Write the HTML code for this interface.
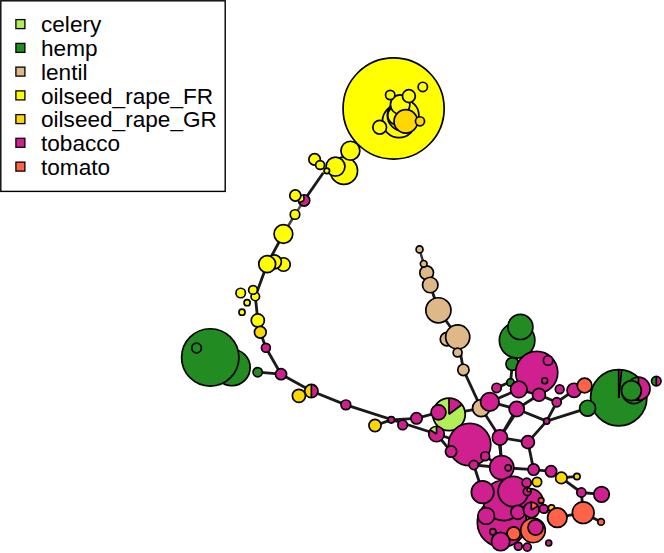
<!DOCTYPE html>
<html><head><meta charset="utf-8"><style>
html,body{margin:0;padding:0;background:#fff;}
svg{display:block;}
text{font-family:"Liberation Sans",sans-serif;font-size:22.6px;fill:#000;}
</style></head><body>
<svg width="664" height="553" viewBox="0 0 664 553">
<rect x="0" y="0" width="664" height="553" fill="#fff"/>
<g stroke="#1a1a1a" stroke-width="2.8" stroke-linecap="butt">
<line x1="323.3" y1="172.8" x2="304.1" y2="200.4"/>
<line x1="304.1" y1="200.4" x2="295" y2="214.5" stroke="#555" stroke-width="2.4"/>
<line x1="295" y1="214.5" x2="283.4" y2="234" stroke="#444" stroke-width="2.5"/>
<line x1="283.4" y1="234" x2="267.2" y2="264.1"/>
<line x1="267.2" y1="264.1" x2="255.3" y2="296.5"/>
<line x1="255.3" y1="296.5" x2="257.8" y2="320.4"/>
<line x1="257.8" y1="320.4" x2="260.3" y2="332.2"/>
<line x1="260.3" y1="332.2" x2="265.9" y2="347.8"/>
<line x1="265.9" y1="347.8" x2="281.05" y2="374.2"/>
<line x1="257.7" y1="372.2" x2="281.05" y2="374.2"/>
<line x1="281.05" y1="374.2" x2="311.35" y2="391.05"/>
<line x1="311.35" y1="391.05" x2="345.85" y2="404.85"/>
<line x1="345.85" y1="404.85" x2="436.5" y2="434"/>
<line x1="375" y1="425.5" x2="391.25" y2="419.85"/>
<line x1="391.25" y1="419.85" x2="416.5" y2="418.35"/>
<line x1="416.5" y1="418.35" x2="438.5" y2="412.35"/>
<line x1="436.5" y1="434" x2="451.1" y2="451.55"/>
<line x1="436.5" y1="434" x2="469.6" y2="444.6"/>
<line x1="449" y1="414.3" x2="481.1" y2="408.1"/>
<line x1="419.55" y1="249.4" x2="423.7" y2="263.85" stroke="#333" stroke-width="2.4"/>
<line x1="423.7" y1="263.85" x2="430.25" y2="285"/>
<line x1="430.25" y1="285" x2="438.4" y2="310.3"/>
<line x1="438.4" y1="310.3" x2="457.7" y2="337"/>
<line x1="457.7" y1="337" x2="463.4" y2="369.9"/>
<line x1="463.4" y1="369.9" x2="481.1" y2="408.1"/>
<line x1="481.1" y1="408.1" x2="499.9" y2="437.5"/>
<line x1="489.8" y1="401.9" x2="518.8" y2="389.4"/>
<line x1="496.6" y1="387.9" x2="510.7" y2="381.6"/>
<line x1="489.8" y1="401.9" x2="516.7" y2="409"/>
<line x1="516.7" y1="409" x2="538.95" y2="394.8"/>
<line x1="518.8" y1="389.4" x2="538.95" y2="394.8"/>
<line x1="538.95" y1="394.8" x2="556.75" y2="402.25"/>
<line x1="556.75" y1="402.25" x2="574.05" y2="390.3"/>
<line x1="556.75" y1="402.25" x2="546.65" y2="421.1"/>
<line x1="546.65" y1="421.1" x2="587.6" y2="408.2"/>
<line x1="516.7" y1="409" x2="546.65" y2="421.1"/>
<line x1="546.65" y1="421.1" x2="527.95" y2="442.15"/>
<line x1="516.7" y1="409" x2="499.9" y2="437.5"/>
<line x1="499.9" y1="437.5" x2="527.95" y2="442.15"/>
<line x1="499.9" y1="437.5" x2="501.75" y2="467.6"/>
<line x1="527.95" y1="442.15" x2="533.6" y2="469.6"/>
<line x1="516.8" y1="411.8" x2="499.9" y2="437.5"/>
<line x1="510.5" y1="382.4" x2="512.4" y2="363.9"/>
<line x1="512.4" y1="363.9" x2="517.1" y2="338.3"/>
<line x1="574.05" y1="390.3" x2="584.6" y2="385.35"/>
<line x1="533.6" y1="469.6" x2="551.05" y2="471.3"/>
<line x1="551.05" y1="471.3" x2="561.35" y2="477.95"/>
<line x1="561.35" y1="477.95" x2="576.95" y2="476.45"/>
<line x1="561.35" y1="477.95" x2="581.35" y2="492.5"/>
<line x1="581.35" y1="492.5" x2="601.55" y2="494.3"/>
<line x1="581.35" y1="492.5" x2="583.2" y2="512.65"/>
<line x1="583.2" y1="512.65" x2="601.05" y2="521.9"/>
<line x1="583.2" y1="512.65" x2="557.3" y2="517.7"/>
<line x1="501.75" y1="467.6" x2="533.6" y2="469.6"/>
<line x1="498.5" y1="437.5" x2="502.5" y2="467.6"/>
<line x1="469.6" y1="444.6" x2="473.8" y2="465"/>
<line x1="473.8" y1="465" x2="482.6" y2="492.2"/>
<line x1="473.8" y1="465" x2="501.75" y2="467.6"/>
<line x1="485.2" y1="456.2" x2="501.75" y2="467.6"/>
</g>
<g stroke="#000" stroke-width="1.7">
<circle cx="393.6" cy="108.5" r="50.55" fill="#FFFF00"/>
<circle cx="399" cy="121.1" r="16.55" fill="#FFFF00"/>
<circle cx="403.1" cy="115.3" r="15.75" fill="#FFFF00"/>
<circle cx="397.3" cy="115.3" r="9.55" fill="#FFFF00"/>
<circle cx="400.2" cy="104.6" r="9.75" fill="#FFFF00"/>
<circle cx="408.9" cy="96.1" r="6.45" fill="#FFFF00"/>
<circle cx="390.2" cy="95" r="4.65" fill="#FFFF00"/>
<circle cx="422.8" cy="86.9" r="4.65" fill="#FFFF00"/>
<circle cx="405.8" cy="121.4" r="11.75" fill="#FFD700"/>
<circle cx="420" cy="121.3" r="4.55" fill="#FFD700"/>
<circle cx="379.7" cy="127.3" r="6.85" fill="#FFFF00"/>
<circle cx="343.9" cy="170.8" r="13.65" fill="#FFFF00"/>
<circle cx="350.4" cy="150.7" r="9.45" fill="#FFFF00"/>
<circle cx="335.5" cy="166.6" r="9.45" fill="#FFFF00"/>
<circle cx="314.6" cy="159.4" r="5.75" fill="#FFFF00"/>
<circle cx="320.1" cy="165" r="4.45" fill="#FFFF00"/>
<circle cx="326.8" cy="170.8" r="2.75" fill="#FFFF00"/>
<circle cx="304.1" cy="200.4" r="5.65" fill="#D02090" stroke="none"/>
<path d="M304.1,200.4 L303.61,194.77 A5.65,5.65 0 0 0 298.98,202.79 Z" fill="#FFFF00" stroke="none"/>
<line x1="304.1" y1="200.4" x2="298.98" y2="202.79" stroke="#000" stroke-width="1.7"/>
<line x1="304.1" y1="200.4" x2="303.61" y2="194.77" stroke="#000" stroke-width="1.7"/>
<circle cx="304.1" cy="200.4" r="5.65" fill="none"/>
<circle cx="295.3" cy="195.5" r="5.55" fill="#FFFF00"/>
<circle cx="295" cy="214.5" r="4.75" fill="#FFFF00"/>
<circle cx="283.4" cy="234" r="9.35" fill="#FFFF00"/>
<circle cx="283.5" cy="264.5" r="6.75" fill="#FFFF00"/>
<circle cx="274.3" cy="261.9" r="7.05" fill="#FFFF00"/>
<circle cx="267.2" cy="264.1" r="8.45" fill="#FFFF00"/>
<circle cx="240.7" cy="293" r="4.75" fill="#FFFF00"/>
<circle cx="255.3" cy="296.5" r="4.25" fill="#FFFF00"/>
<circle cx="253" cy="289.9" r="4.35" fill="#FFFF00"/>
<circle cx="247.1" cy="302.7" r="3.05" fill="#FFFF00"/>
<circle cx="242" cy="312.2" r="3.05" fill="#FFFF00"/>
<circle cx="257.8" cy="320.4" r="6.55" fill="#FFFF00"/>
<circle cx="260.3" cy="332.2" r="5.85" fill="#FFD700"/>
<circle cx="265.9" cy="347.8" r="4.45" fill="#D02090"/>
<circle cx="231.9" cy="367.5" r="18.25" fill="#228B22"/>
<circle cx="210.25" cy="357.4" r="28.65" fill="#228B22"/>
<circle cx="196.55" cy="348" r="4.85" fill="#228B22"/>
<circle cx="257.7" cy="372.2" r="4.65" fill="#228B22"/>
<circle cx="281.05" cy="374.2" r="5.55" fill="#D02090"/>
<circle cx="311.35" cy="391.05" r="6.65" fill="#D02090" stroke="none"/>
<path d="M311.35,391.05 L311.35,384.40 A6.65,6.65 0 0 0 311.35,397.70 Z" fill="#FFD700" stroke="none"/>
<line x1="311.35" y1="391.05" x2="311.35" y2="384.40" stroke="#000" stroke-width="1.7"/>
<line x1="311.35" y1="391.05" x2="311.35" y2="397.70" stroke="#000" stroke-width="1.7"/>
<circle cx="311.35" cy="391.05" r="6.65" fill="none"/>
<circle cx="298.9" cy="395.85" r="6.55" fill="#FFD700"/>
<circle cx="345.85" cy="404.85" r="4.85" fill="#D02090"/>
<circle cx="375" cy="425.5" r="6.05" fill="#FFD700"/>
<circle cx="391.25" cy="419.85" r="3.25" fill="#D02090"/>
<circle cx="402.65" cy="424.95" r="4.75" fill="#D02090"/>
<circle cx="416.5" cy="418.35" r="5.65" fill="#D02090"/>
<circle cx="419.55" cy="249.4" r="3.45" fill="#DEB887"/>
<circle cx="426.65" cy="272.8" r="6.85" fill="#DEB887"/>
<circle cx="423.7" cy="263.85" r="3.35" fill="#DEB887"/>
<circle cx="430.25" cy="285" r="7.75" fill="#DEB887"/>
<circle cx="438.4" cy="310.3" r="12.55" fill="#DEB887"/>
<circle cx="447" cy="339.2" r="6.75" fill="#DEB887"/>
<circle cx="457.7" cy="337" r="12.05" fill="#DEB887"/>
<circle cx="457.6" cy="352.5" r="4.45" fill="#DEB887"/>
<circle cx="463.4" cy="369.9" r="5.65" fill="#DEB887"/>
<circle cx="517.1" cy="340.3" r="17.75" fill="#228B22"/>
<circle cx="520.35" cy="326.95" r="12.55" fill="#228B22"/>
<circle cx="512.4" cy="364" r="6.45" fill="#228B22"/>
<circle cx="510.5" cy="382.4" r="3.75" fill="#228B22"/>
<circle cx="536.7" cy="372.5" r="21.05" fill="#D02090"/>
<circle cx="548.1" cy="360.5" r="4.75" fill="#D02090"/>
<circle cx="544.7" cy="380.7" r="2.95" fill="#D02090"/>
<circle cx="449" cy="414.3" r="16.25" fill="#B3EE5A" stroke="none"/>
<path d="M449,414.3 L461.98,404.52 A16.25,16.25 0 0 0 449.00,398.05 Z" fill="#D02090" stroke="none"/>
<line x1="449" y1="414.3" x2="449.00" y2="398.05" stroke="#000" stroke-width="1.7"/>
<line x1="449" y1="414.3" x2="461.98" y2="404.52" stroke="#000" stroke-width="1.7"/>
<circle cx="449" cy="414.3" r="16.25" fill="none"/>
<circle cx="438.5" cy="412.35" r="7.45" fill="#D02090"/>
<circle cx="436.5" cy="434" r="7.75" fill="#D02090" stroke="none"/>
<path d="M436.5,434 L436.50,426.25 A7.75,7.75 0 0 0 430.00,429.78 Z" fill="#B3EE5A" stroke="none"/>
<line x1="436.5" y1="434" x2="436.50" y2="426.25" stroke="#000" stroke-width="1.7"/>
<line x1="436.5" y1="434" x2="430.00" y2="429.78" stroke="#000" stroke-width="1.7"/>
<circle cx="436.5" cy="434" r="7.75" fill="none"/>
<circle cx="469.6" cy="444.6" r="21.15" fill="#D02090"/>
<circle cx="451.1" cy="451.55" r="5.65" fill="#D02090"/>
<circle cx="485.2" cy="456.2" r="4.45" fill="#D02090"/>
<circle cx="473.8" cy="465" r="4.55" fill="#D02090"/>
<circle cx="481.1" cy="408.1" r="8.55" fill="#DEB887"/>
<circle cx="489.8" cy="401.9" r="9.25" fill="#D02090"/>
<circle cx="496.6" cy="387.9" r="4.65" fill="#D02090"/>
<circle cx="518.8" cy="389.4" r="8.25" fill="#D02090"/>
<circle cx="516.7" cy="409" r="7.55" fill="#D02090"/>
<circle cx="538.95" cy="394.8" r="6.45" fill="#D02090"/>
<circle cx="559.65" cy="389.25" r="4.35" fill="#D02090"/>
<circle cx="556.75" cy="402.25" r="4.55" fill="#D02090"/>
<circle cx="574.05" cy="390.3" r="7.05" fill="#D02090"/>
<circle cx="584.6" cy="385.5" r="7.35" fill="#FF6347"/>
<circle cx="546.65" cy="421.1" r="3.05" fill="#D02090"/>
<circle cx="499.9" cy="437.5" r="7.55" fill="#D02090"/>
<circle cx="527.95" cy="442.15" r="6.45" fill="#D02090"/>
<circle cx="618.7" cy="397.8" r="28.15" fill="#228B22" stroke="none"/>
<path d="M618.7,397.8 L621.64,369.80 A28.15,28.15 0 0 0 618.70,369.65 Z" fill="#D02090" stroke="none"/>
<line x1="618.7" y1="397.8" x2="618.70" y2="369.65" stroke="#000" stroke-width="1.7"/>
<line x1="618.7" y1="397.8" x2="621.64" y2="369.80" stroke="#000" stroke-width="1.7"/>
<circle cx="618.7" cy="397.8" r="28.15" fill="none"/>
<circle cx="633.8" cy="391.9" r="11.75" fill="#228B22"/>
<circle cx="638.5" cy="388.7" r="11.55" fill="#D02090" stroke="none"/>
<path d="M638.5,388.7 L638.50,377.15 A11.55,11.55 0 0 0 638.50,400.25 Z" fill="#228B22" stroke="none"/>
<line x1="638.5" y1="388.7" x2="638.50" y2="377.15" stroke="#000" stroke-width="1.7"/>
<line x1="638.5" y1="388.7" x2="638.50" y2="400.25" stroke="#000" stroke-width="1.7"/>
<circle cx="638.5" cy="388.7" r="11.55" fill="none"/>
<circle cx="631.4" cy="390.7" r="9.95" fill="#228B22"/>
<circle cx="656.3" cy="381.1" r="4.75" fill="#D02090" stroke="none"/>
<path d="M656.3,381.1 L656.30,376.35 A4.75,4.75 0 0 0 656.30,385.85 Z" fill="#228B22" stroke="none"/>
<line x1="656.3" y1="381.1" x2="656.30" y2="376.35" stroke="#000" stroke-width="1.7"/>
<line x1="656.3" y1="381.1" x2="656.30" y2="385.85" stroke="#000" stroke-width="1.7"/>
<circle cx="656.3" cy="381.1" r="4.75" fill="none"/>
<circle cx="587.6" cy="408.2" r="7.95" fill="#228B22"/>
<circle cx="502" cy="522.5" r="24.65" fill="#D02090"/>
<circle cx="503.6" cy="500.4" r="20.15" fill="#D02090"/>
<circle cx="529.9" cy="501.8" r="13.25" fill="#D02090"/>
<circle cx="501.75" cy="467.6" r="12.05" fill="#D02090"/>
<circle cx="508.2" cy="467.8" r="3.05" fill="#D02090"/>
<circle cx="533.6" cy="469.6" r="5.65" fill="#D02090"/>
<circle cx="551.05" cy="471.3" r="5.65" fill="#D02090"/>
<circle cx="561.35" cy="477.95" r="5.75" fill="#FFD700"/>
<circle cx="576.95" cy="476.45" r="3.15" fill="#FFD700"/>
<circle cx="537" cy="482" r="4.65" fill="#FFD700"/>
<circle cx="581.35" cy="492.5" r="4.55" fill="#D02090"/>
<circle cx="601.55" cy="494.3" r="7.75" fill="#D02090"/>
<circle cx="482.6" cy="492.2" r="11.25" fill="#D02090"/>
<circle cx="513.3" cy="491.5" r="15.15" fill="#D02090"/>
<circle cx="526.7" cy="482.75" r="4.55" fill="#D02090"/>
<circle cx="527.25" cy="491.6" r="3.95" fill="#D02090" stroke="none"/>
<path d="M527.25,491.6 L531.20,491.60 A3.95,3.95 0 0 0 527.25,487.65 Z" fill="#FF6347" stroke="none"/>
<line x1="527.25" y1="491.6" x2="531.20" y2="491.60" stroke="#000" stroke-width="1.7"/>
<line x1="527.25" y1="491.6" x2="527.25" y2="487.65" stroke="#000" stroke-width="1.7"/>
<circle cx="527.25" cy="491.6" r="3.95" fill="none"/>
<circle cx="486.15" cy="515.9" r="8.35" fill="#D02090"/>
<circle cx="517.85" cy="512.35" r="6.95" fill="#D02090"/>
<circle cx="531.3" cy="509.9" r="7.85" fill="#D02090" stroke="none"/>
<path d="M531.3,509.9 L538.03,505.86 A7.85,7.85 0 0 0 531.30,502.05 Z" fill="#FF6347" stroke="none"/>
<line x1="531.3" y1="509.9" x2="531.30" y2="502.05" stroke="#000" stroke-width="1.7"/>
<line x1="531.3" y1="509.9" x2="538.03" y2="505.86" stroke="#000" stroke-width="1.7"/>
<circle cx="531.3" cy="509.9" r="7.85" fill="none"/>
<circle cx="541.15" cy="500.4" r="2.75" fill="#FF6347"/>
<circle cx="544.7" cy="509.2" r="3.65" fill="#D02090"/>
<circle cx="583.2" cy="512.65" r="10.85" fill="#FF6347"/>
<circle cx="601.05" cy="521.9" r="3.35" fill="#FF6347"/>
<circle cx="551.5" cy="508" r="3.15" fill="#FFD700"/>
<circle cx="543.7" cy="508.9" r="4.25" fill="#D02090"/>
<circle cx="557.3" cy="517.7" r="9.75" fill="#FF6347"/>
<circle cx="533" cy="530.35" r="12.25" fill="#FF6347"/>
<circle cx="535.55" cy="527.5" r="7.55" fill="#D02090"/>
<circle cx="492.85" cy="531.75" r="3.05" fill="#D02090"/>
<circle cx="513.65" cy="533.55" r="6.65" fill="#FF6347"/>
<circle cx="500.6" cy="541.6" r="9.15" fill="#D02090"/>
<circle cx="518.25" cy="546.25" r="3.95" fill="#D02090"/>
<circle cx="527.25" cy="547.15" r="3.95" fill="#D02090"/>
<circle cx="548.75" cy="543.05" r="2.95" fill="#D02090"/>
</g>
<rect x="0.8" y="0.8" width="224.4" height="190.6" fill="none" stroke="#000" stroke-width="1.4"/>
<rect x="15.9" y="19.6" width="9.0" height="9.0" fill="#B3EE5A" stroke="#000" stroke-width="1.3"/>
<text x="41" y="32.2">celery</text>
<rect x="15.9" y="43.4" width="9.0" height="9.0" fill="#228B22" stroke="#000" stroke-width="1.3"/>
<text x="41" y="56.0">hemp</text>
<rect x="15.9" y="67.1" width="9.0" height="9.0" fill="#DEB887" stroke="#000" stroke-width="1.3"/>
<text x="41" y="79.7">lentil</text>
<rect x="15.9" y="90.9" width="9.0" height="9.0" fill="#FFFF00" stroke="#000" stroke-width="1.3"/>
<text x="41" y="103.5">oilseed_rape_FR</text>
<rect x="15.9" y="114.6" width="9.0" height="9.0" fill="#FFD700" stroke="#000" stroke-width="1.3"/>
<text x="41" y="127.2">oilseed_rape_GR</text>
<rect x="15.9" y="138.3" width="9.0" height="9.0" fill="#D02090" stroke="#000" stroke-width="1.3"/>
<text x="41" y="150.9">tobacco</text>
<rect x="15.9" y="162.1" width="9.0" height="9.0" fill="#FF6347" stroke="#000" stroke-width="1.3"/>
<text x="41" y="174.7">tomato</text>
</svg>
</body></html>
